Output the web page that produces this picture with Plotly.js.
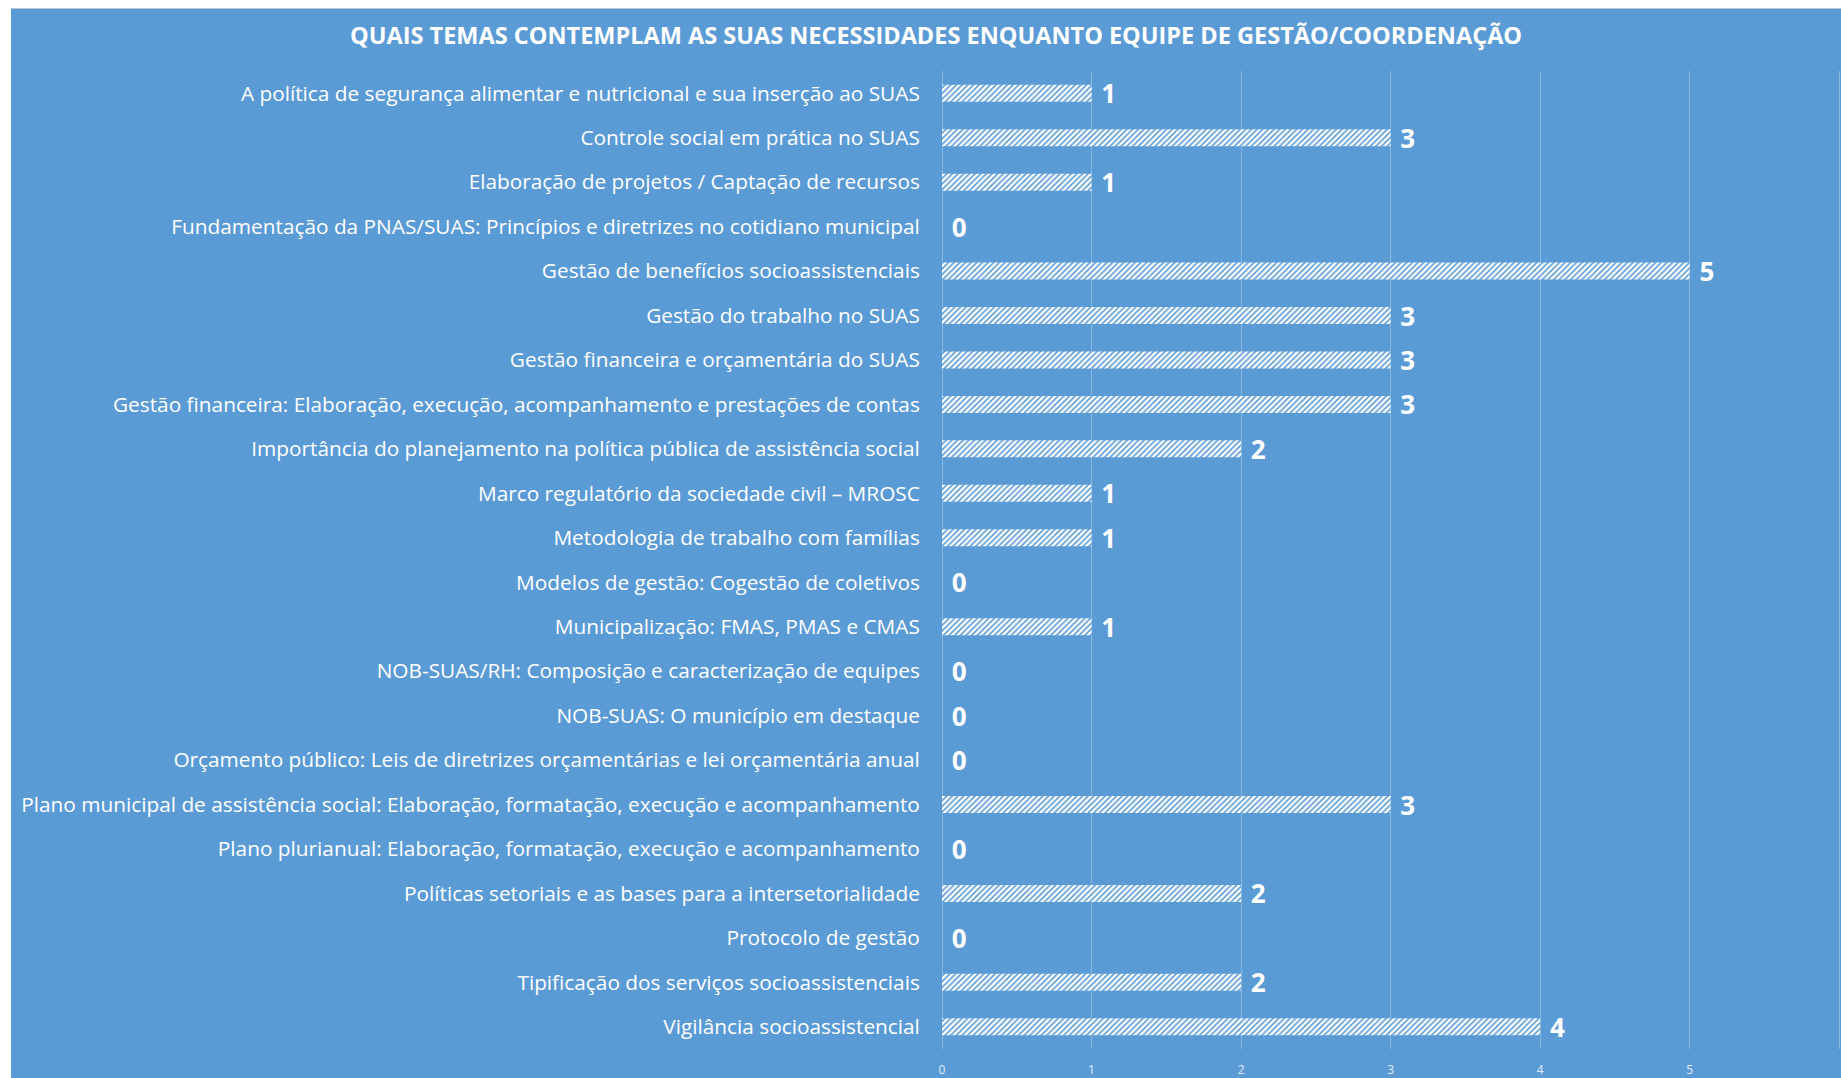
<!DOCTYPE html>
<html>
<head>
<meta charset="utf-8">
<script src="https://cdn.plot.ly/plotly-3.0.1.min.js"></script>
<style>
  html, body { margin: 0; padding: 0; background: #ffffff; width: 1841px; height: 1078px; overflow: hidden; }
  #chart { position: absolute; left: 11px; top: 8px; width: 1830px; height: 1070px; border-top: 1px solid #b8c7d6; box-sizing: border-box; }
</style>
</head>
<body>
<div id="chart"></div>
<script>
const categories = [
  "A política de segurança alimentar e nutricional e sua inserção ao SUAS",
  "Controle social em prática no SUAS",
  "Elaboração de projetos / Captação de recursos",
  "Fundamentação da PNAS/SUAS: Princípios e diretrizes no cotidiano municipal",
  "Gestão de benefícios socioassistenciais",
  "Gestão do trabalho no SUAS",
  "Gestão financeira e orçamentária do SUAS",
  "Gestão financeira: Elaboração, execução, acompanhamento e prestações de contas",
  "Importância do planejamento na política pública de assistência social",
  "Marco regulatório da sociedade civil – MROSC",
  "Metodologia de trabalho com famílias",
  "Modelos de gestão: Cogestão de coletivos",
  "Municipalização: FMAS, PMAS e CMAS",
  "NOB-SUAS/RH: Composição e caracterização de equipes",
  "NOB-SUAS: O município em destaque",
  "Orçamento público: Leis de diretrizes orçamentárias e lei orçamentária anual",
  "Plano municipal de assistência social: Elaboração, formatação, execução e acompanhamento",
  "Plano plurianual: Elaboração, formatação, execução e acompanhamento",
  "Políticas setoriais e as bases para a intersetorialidade",
  "Protocolo de gestão",
  "Tipificação dos serviços socioassistenciais",
  "Vigilância socioassistencial"
];
const values = [1, 3, 1, 0, 5, 3, 3, 3, 2, 1, 1, 0, 1, 0, 0, 0, 3, 0, 2, 0, 2, 4];
const xTickValues = [0, 1, 2, 3, 4, 5, 6];
const chartTitle = "QUAIS TEMAS CONTEMPLAM AS SUAS NECESSIDADES ENQUANTO EQUIPE DE GESTÃO/COORDENAÇÃO";

const BG = "#5B9BD5";

const trace = {
  type: "bar",
  orientation: "h",
  x: values,
  y: categories,
  text: values.map(v => " " + v),
  textposition: "outside",
  constraintext: "none",
  cliponaxis: false,
  textfont: { family: "Open Sans, sans-serif", size: 26, color: "#ffffff", weight: "bold" },
  marker: {
    color: "#ffffff",
    line: { width: 0 },
    pattern: { shape: "/", fgcolor: BG, bgcolor: "#ffffff", size: 4, solidity: 0.4 }
  },
  hoverinfo: "x+y"
};

const layout = {
  width: 1830,
  height: 1070,
  paper_bgcolor: BG,
  plot_bgcolor: BG,
  margin: { l: 931, r: 0, t: 62, b: 30, pad: 0 },
  bargap: 0.618,
  showlegend: false,
  title: {
    text: "<b>" + chartTitle + "</b>",
    font: { family: "Open Sans, sans-serif", size: 23.5, color: "#ffffff" },
    xref: "container", x: 0.5055, xanchor: "center",
    yref: "container", y: 0.975, yanchor: "middle"
  },
  xaxis: {
    range: [0, 6.012],
    tickvals: xTickValues,
    ticktext: xTickValues.map(String),
    showgrid: true,
    gridcolor: "rgba(255,255,255,0.28)",
    gridwidth: 1,
    zeroline: true,
    zerolinecolor: "rgba(255,255,255,0.28)",
    zerolinewidth: 1,
    showline: false,
    ticks: "outside",
    ticklen: 10,
    tickcolor: "rgba(0,0,0,0)",
    tickfont: { family: "Open Sans, sans-serif", size: 12, color: "#e3edf8" }
  },
  yaxis: {
    type: "category",
    categoryorder: "array",
    categoryarray: categories,
    autorange: "reversed",
    showgrid: false,
    zeroline: false,
    showline: false,
    ticks: "outside",
    ticklen: 17,
    tickcolor: "rgba(0,0,0,0)",
    tickfont: { family: "Open Sans, sans-serif", size: 20.8, color: "#ffffff" }
  }
};

Plotly.newPlot("chart", [trace], layout, { displayModeBar: false, responsive: false });
</script>
</body>
</html>
